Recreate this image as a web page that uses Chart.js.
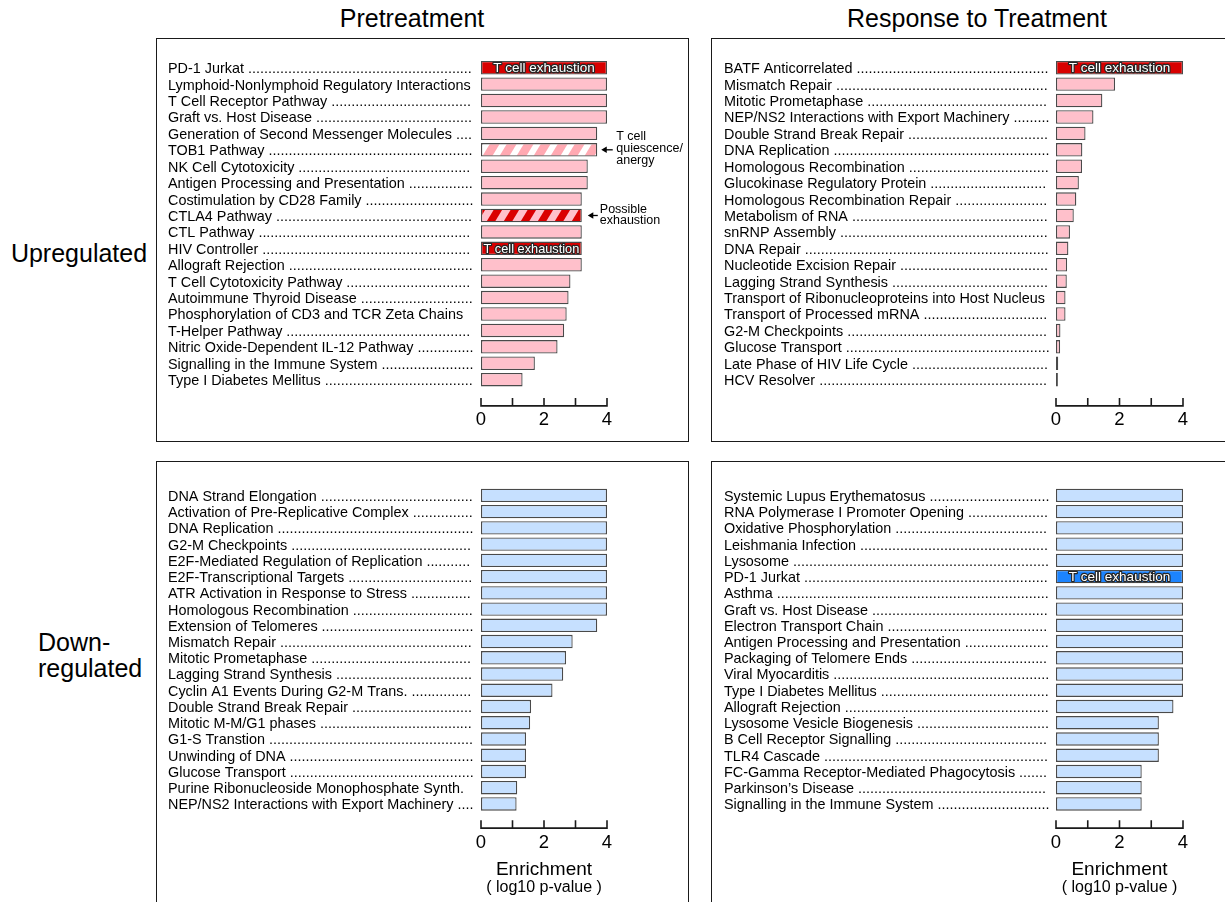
<!DOCTYPE html>
<html>
<head>
<meta charset="utf-8">
<script src="https://cdn.jsdelivr.net/npm/chart.js@4.4.1/dist/chart.umd.min.js"></script>
<style>
html,body{margin:0;padding:0;background:#fff;}
body{width:1225px;height:902px;overflow:hidden;position:relative;font-family:"Liberation Sans",Arial,sans-serif;color:#000;}
canvas{position:absolute;}
.box{position:absolute;border:1.5px solid #1a1a1a;box-sizing:border-box;pointer-events:none;}
.t{position:absolute;white-space:nowrap;line-height:1;}
.c{transform:translate(-50%,-50%);}
.l{transform:translateY(-50%);}
</style>
</head>
<body>
<canvas id="cTL" width="533" height="404" style="left:156px;top:38px"></canvas>
<canvas id="cTR" width="533" height="404" style="left:711px;top:38px"></canvas>
<canvas id="cBL" width="533" height="441" style="left:156px;top:461px"></canvas>
<canvas id="cBR" width="533" height="441" style="left:711px;top:461px"></canvas>
<div class="box" style="left:156px;top:38px;width:533px;height:404px"></div>
<div class="box" style="left:711px;top:38px;width:533px;height:404px"></div>
<div class="box" style="left:156px;top:461px;width:533px;height:460px"></div>
<div class="box" style="left:711px;top:461px;width:533px;height:460px"></div>
<div id="titles"></div>
<script>
// ---------------- data ----------------
const columnTitles = ['Pretreatment', 'Response to Treatment'];
const rowTitles = ['Upregulated', ['Down-', 'regulated']];
const axisTitle = ['Enrichment', '( log10 p-value )'];
const xTickValues = [0, 1, 2, 3, 4];
const xTickLabels = ['0', '', '2', '', '4'];

const upPreLabels = ['PD-1 Jurkat', 'Lymphoid-Nonlymphoid Regulatory Interactions', 'T Cell Receptor Pathway',
  'Graft vs. Host Disease', 'Generation of Second Messenger Molecules', 'TOB1 Pathway', 'NK Cell Cytotoxicity',
  'Antigen Processing and Presentation', 'Costimulation by CD28 Family', 'CTLA4 Pathway', 'CTL Pathway',
  'HIV Controller', 'Allograft Rejection', 'T Cell Cytotoxicity Pathway', 'Autoimmune Thyroid Disease',
  'Phosphorylation of CD3 and TCR Zeta Chains', 'T-Helper Pathway', 'Nitric Oxide-Dependent IL-12 Pathway',
  'Signalling in the Immune System', 'Type I Diabetes Mellitus'];
const upPreValues = [4.0, 4.0, 4.0, 4.0, 3.69, 3.69, 3.39, 3.39, 3.2, 3.2, 3.2, 3.2, 3.2, 2.84, 2.78, 2.72, 2.64, 2.43, 1.71, 1.32];

const upRespLabels = ['BATF Anticorrelated', 'Mismatch Repair', 'Mitotic Prometaphase',
  'NEP/NS2 Interactions with Export Machinery', 'Double Strand Break Repair', 'DNA Replication',
  'Homologous Recombination', 'Glucokinase Regulatory Protein', 'Homologous Recombination Repair',
  'Metabolism of RNA', 'snRNP Assembly', 'DNA Repair', 'Nucleotide Excision Repair', 'Lagging Strand Synthesis',
  'Transport of Ribonucleoproteins into Host Nucleus', 'Transport of Processed mRNA', 'G2-M Checkpoints',
  'Glucose Transport', 'Late Phase of HIV Life Cycle', 'HCV Resolver'];
const upRespValues = [4.0, 1.86, 1.46, 1.18, 0.93, 0.83, 0.82, 0.72, 0.64, 0.56, 0.44, 0.39, 0.35, 0.34, 0.30, 0.30, 0.14, 0.13, 0.07, 0.06];

const downPreLabels = ['DNA Strand Elongation', 'Activation of Pre-Replicative Complex', 'DNA Replication',
  'G2-M Checkpoints', 'E2F-Mediated Regulation of Replication', 'E2F-Transcriptional Targets',
  'ATR Activation in Response to Stress', 'Homologous Recombination', 'Extension of Telomeres', 'Mismatch Repair',
  'Mitotic Prometaphase', 'Lagging Strand Synthesis', 'Cyclin A1 Events During G2-M Trans.',
  'Double Strand Break Repair', 'Mitotic M-M/G1 phases', 'G1-S Transtion', 'Unwinding of DNA', 'Glucose Transport',
  'Purine Ribonucleoside Monophosphate Synth.', 'NEP/NS2 Interactions with Export Machinery'];
const downPreValues = [4.0, 4.0, 4.0, 4.0, 4.0, 4.0, 4.0, 4.0, 3.69, 2.91, 2.70, 2.61, 2.27, 1.59, 1.56, 1.43, 1.43, 1.43, 1.15, 1.13];

const downRespLabels = ['Systemic Lupus Erythematosus', 'RNA Polymerase I Promoter Opening',
  'Oxidative Phosphorylation', 'Leishmania Infection', 'Lysosome', 'PD-1 Jurkat', 'Asthma', 'Graft vs. Host Disease',
  'Electron Transport Chain', 'Antigen Processing and Presentation', 'Packaging of Telomere Ends', 'Viral Myocarditis',
  'Type I Diabetes Mellitus', 'Allograft Rejection', 'Lysosome Vesicle Biogenesis', 'B Cell Receptor Signalling',
  'TLR4 Cascade', 'FC-Gamma Receptor-Mediated Phagocytosis', 'Parkinson\u2019s Disease', 'Signalling in the Immune System'];
const downRespValues = [4.0, 4.0, 4.0, 4.0, 4.0, 4.0, 4.0, 4.0, 4.0, 4.0, 4.0, 4.0, 4.0, 3.70, 3.24, 3.24, 3.24, 2.70, 2.70, 2.70];

const exhaustionText = 'T cell exhaustion';
const upPreExhaustion = ['PD-1 Jurkat', 'HIV Controller'];
const upRespExhaustion = ['BATF Anticorrelated'];
const downPreExhaustion = [];
const downRespExhaustion = ['PD-1 Jurkat'];
const quiescenceLabel = 'TOB1 Pathway';
const quiescenceNote = ['T cell', 'quiescence/', 'anergy'];
const possibleLabel = 'CTLA4 Pathway';
const possibleNote = ['Possible', 'exhaustion'];

// ---------------- styling / helpers ----------------
const FAMILY = '"Liberation Sans", Arial, sans-serif';
const LABEL_SIZE = 14.4;
Chart.defaults.font.family = FAMILY;
Chart.defaults.color = '#000';

const mctx = document.createElement('canvas').getContext('2d');
mctx.font = LABEL_SIZE + 'px ' + FAMILY;
function withLeaders(text, avail) {
  const tw = mctx.measureText(text).width;
  const dw = mctx.measureText('.').width;
  const sw = mctx.measureText(' ').width;
  const n = Math.floor((avail - tw - sw) / dw);
  return n >= 2 ? text + ' ' + '.'.repeat(n) : text;
}

function stripePattern(ctx, bg, fg, frac) {
  const P = 17, H = 28;
  const c = document.createElement('canvas');
  c.width = P; c.height = H;
  const g = c.getContext('2d');
  g.fillStyle = bg; g.fillRect(0, 0, P, H);
  g.fillStyle = fg;
  const w = P * frac;
  for (let k = -1; k <= 1; k++) {
    const x0 = k * P;
    g.beginPath();
    g.moveTo(x0, H); g.lineTo(x0 + w, H); g.lineTo(x0 + w + P, 0); g.lineTo(x0 + P, 0);
    g.closePath(); g.fill();
  }
  return ctx.createPattern(c, 'repeat');
}

const axisPlugin = {
  id: 'enrichAxis',
  afterDraw(chart, args, o) {
    const xs = chart.scales.x, ctx = chart.ctx;
    const y = chart.chartArea.bottom + o.gap;
    ctx.save();
    ctx.strokeStyle = '#1a1a1a'; ctx.lineWidth = 1.6; ctx.lineCap = 'square';
    ctx.beginPath();
    ctx.moveTo(xs.getPixelForValue(xs.min), y);
    ctx.lineTo(xs.getPixelForValue(xs.max), y);
    xs.ticks.forEach(t => {
      const px = xs.getPixelForValue(t.value);
      ctx.moveTo(px, y); ctx.lineTo(px, y - o.tick);
    });
    ctx.stroke();
    ctx.restore();
  }
};

const barTextPlugin = {
  id: 'barText',
  afterDatasetsDraw(chart, args, o) {
    const meta = chart.getDatasetMeta(0), ctx = chart.ctx, labels = chart.data.labels;
    ctx.save();
    ctx.font = '13.5px ' + FAMILY;
    ctx.textAlign = 'center'; ctx.textBaseline = 'middle'; ctx.lineJoin = 'round';
    (o.items || []).forEach(name => {
      const i = labels.indexOf(name);
      if (i < 0) return;
      const bar = meta.data[i];
      const cx = (bar.x + bar.base) / 2, w = Math.abs(bar.x - bar.base) - 5;
      ctx.lineWidth = 2.4; ctx.strokeStyle = '#262626';
      ctx.strokeText(o.text, cx, bar.y + 0.5, w);
      ctx.fillStyle = '#fff';
      ctx.fillText(o.text, cx, bar.y + 0.5, w);
    });
    ctx.restore();
  }
};

const notePlugin = {
  id: 'notes',
  afterDatasetsDraw(chart, args, o) {
    const meta = chart.getDatasetMeta(0), ctx = chart.ctx, labels = chart.data.labels;
    (o.items || []).forEach(n => {
      const i = labels.indexOf(n.label);
      if (i < 0) return;
      const bar = meta.data[i];
      const x0 = bar.x + n.arrowGap, x1 = x0 + n.arrowLen, y = bar.y;
      ctx.save();
      ctx.strokeStyle = '#000'; ctx.fillStyle = '#000'; ctx.lineWidth = 1.3;
      ctx.beginPath(); ctx.moveTo(x0 + 4, y); ctx.lineTo(x1, y); ctx.stroke();
      ctx.beginPath(); ctx.moveTo(x0, y); ctx.lineTo(x0 + 5.5, y - 3.2); ctx.lineTo(x0 + 5.5, y + 3.2);
      ctx.closePath(); ctx.fill();
      ctx.font = '12.5px ' + FAMILY;
      ctx.textAlign = 'left'; ctx.textBaseline = 'middle';
      n.lines.forEach((t, k) => ctx.fillText(t, x1 + n.textGap, y + n.firstDy + k * n.lineH));
      ctx.restore();
    });
  }
};

function buildPanel(id, g, labels, values, colors, opts) {
  const canvas = document.getElementById(id);
  const ctx = canvas.getContext('2d');
  const bg = labels.map(l => {
    if (opts.exhaustion.includes(l)) return colors.hi;
    if (opts.quiescence && l === opts.quiescence) return stripePattern(ctx, '#FFA9B2', '#FFFFFF', 0.42);
    if (opts.possible && l === opts.possible) return stripePattern(ctx, '#FFC0CB', '#DA0000', 0.5);
    return colors.base;
  });
  return new Chart(ctx, {
    type: 'bar',
    data: {
      labels: labels,
      datasets: [{
        data: values, backgroundColor: bg, borderColor: '#4a4a4a', borderWidth: 1.3,
        borderSkipped: false, barPercentage: 0.82, categoryPercentage: 1
      }]
    },
    options: {
      indexAxis: 'y', responsive: false, animation: false, events: [],
      layout: { padding: { left: g.padL, top: g.padT, right: g.padR, bottom: 0 } },
      plugins: {
        legend: { display: false }, tooltip: { enabled: false },
        enrichAxis: { gap: g.axisGap, tick: 7 },
        barText: { items: opts.exhaustion, text: exhaustionText },
        notes: { items: opts.notes || [] }
      },
      scales: {
        x: {
          type: 'linear', min: 0, max: 4,
          afterBuildTicks: s => { s.ticks = xTickValues.map(v => ({ value: v })); },
          ticks: {
            autoSkip: false, maxRotation: 0, padding: g.tickPad, color: '#000',
            font: { size: 18.5 },
            callback: v => { const k = xTickValues.indexOf(v); return k < 0 ? '' : xTickLabels[k]; }
          },
          grid: { display: false, drawTicks: false }, border: { display: false },
          afterFit: s => { s.height = g.xH; }
        },
        y: {
          ticks: {
            autoSkip: false, crossAlign: 'far', labelOffset: 1.5, color: '#000',
            font: { size: LABEL_SIZE },
            callback: (v, i) => withLeaders(labels[i], g.labelW)
          },
          grid: { display: false, drawTicks: false }, border: { display: false },
          afterFit: s => { s.width = g.yW; }
        }
      }
    },
    plugins: [axisPlugin, barTextPlugin, notePlugin]
  });
}

const pink = { base: '#FFC0CB', hi: '#D80000' };
const blue = { base: '#C6E0FF', hi: '#1C84FF' };
const gTL = { padL: 12, padT: 21.5, padR: 82, yW: 313, xH: 54.1, axisGap: 18, tickPad: 21, labelW: 306 };
const gTR = { padL: 13, padT: 21.5, padR: 61, yW: 332, xH: 54.1, axisGap: 18, tickPad: 21, labelW: 326 };
const gBL = { padL: 12, padT: 26.2, padR: 82, yW: 313, xH: 89.9, axisGap: 16, tickPad: 20, labelW: 306 };
const gBR = { padL: 13, padT: 26.2, padR: 61, yW: 332, xH: 89.9, axisGap: 16, tickPad: 20, labelW: 326 };

const chTL = buildPanel('cTL', gTL, upPreLabels, upPreValues, pink, {
  exhaustion: upPreExhaustion, quiescence: quiescenceLabel, possible: possibleLabel,
  notes: [
    { label: quiescenceLabel, lines: quiescenceNote, arrowGap: 4, arrowLen: 11.5, textGap: 3.5, firstDy: -13, lineH: 11.8 },
    { label: possibleLabel, lines: possibleNote, arrowGap: 6, arrowLen: 10, textGap: 2, firstDy: -5.5, lineH: 11 }
  ]
});
const chTR = buildPanel('cTR', gTR, upRespLabels, upRespValues, pink, { exhaustion: upRespExhaustion });
const chBL = buildPanel('cBL', gBL, downPreLabels, downPreValues, blue, { exhaustion: downPreExhaustion });
const chBR = buildPanel('cBR', gBR, downRespLabels, downRespValues, blue, { exhaustion: downRespExhaustion });

// ---------------- text ----------------
const T = document.getElementById('titles');
function addText(txt, x, y, size, cls) {
  const d = document.createElement('div');
  d.className = 't ' + cls;
  d.textContent = txt;
  d.style.left = x + 'px'; d.style.top = y + 'px'; d.style.fontSize = size + 'px';
  T.appendChild(d);
}
addText(columnTitles[0], 412, 18, 25, 'c');
addText(columnTitles[1], 977, 18, 25, 'c');
addText(rowTitles[0], 79, 253, 25, 'c');
addText(rowTitles[1][0], 38, 642, 25, 'l');
addText(rowTitles[1][1], 38, 668, 25, 'l');
[[chBL, 156], [chBR, 711]].forEach(([ch, left]) => {
  const xs = ch.scales.x;
  const cx = left + (xs.getPixelForValue(0) + xs.getPixelForValue(4)) / 2;
  addText(axisTitle[0], cx, 868, 19, 'c');
  addText(axisTitle[1], cx, 887, 16, 'c');
});
</script>
</body>
</html>
